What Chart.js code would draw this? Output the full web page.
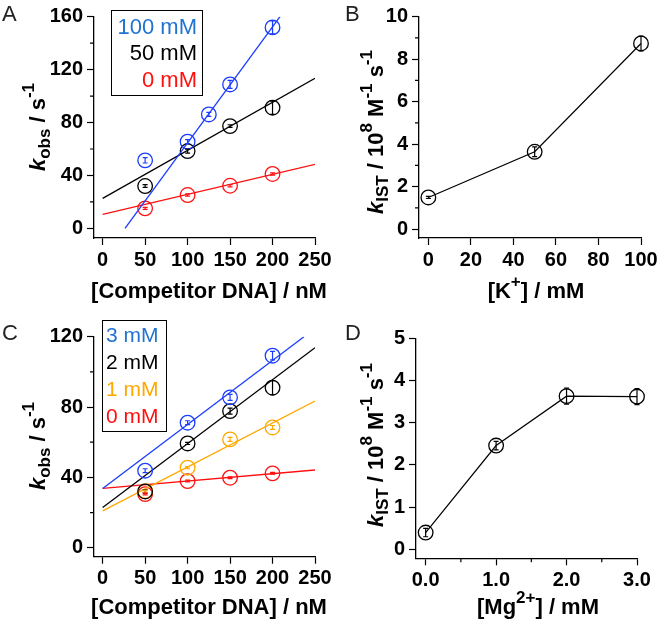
<!DOCTYPE html>
<html lang="en">
<head>
<meta charset="UTF-8" />
<title>kobs vs competitor DNA</title>
<script src="https://cdn.jsdelivr.net/npm/chart.js@4.4.1/dist/chart.umd.min.js"></script>
<style>
  html, body { margin: 0; padding: 0; background: #fff; }
  #wrap { position: relative; width: 661px; height: 627px; overflow: hidden; background: #fff; }
  #wrap canvas { position: absolute; left: 0; top: 0; }
</style>
</head>
<body>
<div id="wrap">
  <canvas id="pa" width="661" height="627"></canvas>
  <canvas id="pb" width="661" height="627"></canvas>
  <canvas id="pc" width="661" height="627"></canvas>
  <canvas id="pd" width="661" height="627"></canvas>
</div>
<script>
// --- data ---
// A: kobs vs [competitor DNA] at three [K+]
const dnaA100 = [50, 100, 125, 150, 200]
const kobsA100 = [51.4, 65.5, 86.1, 108.8, 151.9]
const errA100 = [2, 1.5, 1.5, 3, 4.9]
const dnaA = [50, 100, 150, 200]
const kobsA50 = [32, 58.4, 77.3, 91.2]
const errA50 = [1, 1.5, 1, 5]
const kobsA0 = [15.1, 25.2, 32.2, 41.1]
const errA0 = [0.8, 0.8, 0.8, 0.8]
const fitA100 = [[26.3, 0], [208.8, 160]]
const fitA50 = [[0, 22.7], [250, 113.4]]
const fitA0 = [[0, 10.6], [250, 48.4]]

// B: kIST vs [K+]
const potassium = [0, 50, 100]
const kistB = [1.49, 3.64, 8.74]
const errB = [0.05, 0.23, 0.35]

// C: kobs vs [competitor DNA] at four [Mg2+]
const dnaC = [50, 100, 150, 200]
const kobsC3 = [43.8, 71.1, 85.5, 109.2]
const errC3 = [1.1, 1.1, 1.7, 2.4]
const kobsC2 = [32, 59.3, 77.7, 91]
const errC2 = [1, 0.6, 1.7, 4]
const kobsC1 = [32.2, 45.5, 61.6, 68.4]
const errC1 = [0.6, 0.6, 1.1, 1.1]
const kobsC0 = [30.5, 37.9, 39.8, 42.3]
const errC0 = [0.5, 0.5, 0.5, 0.5]
const fitC3 = [[0, 33.7], [237, 120]]
const fitC2 = [[0, 22.9], [250, 113.7]]
const fitC1 = [[0, 21], [250, 83.4]]
const fitC0 = [[0, 33.7], [250, 44.2]]

// D: kIST vs [Mg2+]
const magnesium = [0, 1, 2, 3]
const kistD = [0.40, 2.46, 3.63, 3.62]
const errD = [0.1, 0.1, 0.19, 0.19]

// tick values
const ticksDna = [0, 50, 100, 150, 200, 250]
const ticksKobsA = [0, 40, 80, 120, 160]
const minorKobsA = [20, 60, 100, 140]
const ticksK = [0, 20, 40, 60, 80, 100]
const ticksKistB = [0, 2, 4, 6, 8, 10]
const minorKistB = [1, 3, 5, 7, 9]
const ticksKobsC = [0, 40, 80, 120]
const minorKobsC = [20, 60, 100]
const ticksMg = [0, 1, 2, 3]
const minorMg = [0.5, 1.5, 2.5]
const ticksKistD = [0, 1, 2, 3, 4, 5]

const BLUE = '#1a3cff'
const BLUE_TXT = '#1f74d0'
const ORANGE = '#ffa800'
const RED = '#ff1010'
const BLACK = '#000'
const FONT = '"Liberation Sans", Arial, Helvetica, sans-serif'

const pts = (xs, ys) => xs.map((x, i) => ({ x, y: ys[i] }))

// draw a run of text pieces (sub/superscripts) centred on (cx, cy)
function rich(ctx, parts, cx, cy, rotate) {
  ctx.save()
  ctx.translate(cx, cy)
  if (rotate) ctx.rotate(-Math.PI / 2)
  ctx.textBaseline = 'alphabetic'
  ctx.fillStyle = '#000'
  let total = 0
  for (const p of parts) {
    ctx.font = `${p.s || ''} ${p.z}px ${FONT}`
    p.w = ctx.measureText(p.t).width
    total += p.w
  }
  let x = -total / 2
  for (const p of parts) {
    ctx.font = `${p.s || ''} ${p.z}px ${FONT}`
    ctx.fillText(p.t, x, p.dy || 0)
    x += p.w
  }
  ctx.restore()
}

const extras = {
  id: 'extras',
  afterDatasetsDraw(chart) {
    const o = chart.options.plugins.extras
    const { ctx, chartArea: ca } = chart
    const sx = chart.scales.x
    const sy = chart.scales.y
    ctx.save()
    // error bars
    for (const ds of chart.data.datasets) {
      if (!ds.err) continue
      ctx.strokeStyle = ds.borderColor
      ctx.lineWidth = 1.2
      ds.data.forEach((p, i) => {
        const px = sx.getPixelForValue(p.x)
        const lo = sy.getPixelForValue(p.y - ds.err[i])
        const hi = sy.getPixelForValue(p.y + ds.err[i])
        ctx.beginPath()
        ctx.moveTo(px, lo); ctx.lineTo(px, hi)
        ctx.moveTo(px - 2.5, lo); ctx.lineTo(px + 2.5, lo)
        ctx.moveTo(px - 2.5, hi); ctx.lineTo(px + 2.5, hi)
        ctx.stroke()
      })
    }
    // minor ticks
    ctx.strokeStyle = '#000'
    ctx.lineWidth = 1.2
    ctx.beginPath()
    for (const v of o.yMinor || []) {
      const py = sy.getPixelForValue(v)
      ctx.moveTo(ca.left - 4, py); ctx.lineTo(ca.left, py)
    }
    for (const v of o.xMinor || []) {
      const px = sx.getPixelForValue(v)
      ctx.moveTo(px, ca.bottom); ctx.lineTo(px, ca.bottom + 4)
    }
    ctx.stroke()
    // legend box
    if (o.legend) {
      const L = o.legend
      ctx.strokeStyle = '#000'
      ctx.lineWidth = 1
      ctx.strokeRect(L.x + 0.5, L.y + 0.5, L.w, L.h)
      ctx.font = `${L.size}px ${FONT}`
      ctx.textAlign = L.align
      ctx.textBaseline = 'alphabetic'
      L.items.forEach((it, i) => {
        ctx.fillStyle = it.color
        ctx.fillText(it.text, L.tx, L.ty + i * L.dy)
      })
    }
    // panel letter
    ctx.font = `22px ${FONT}`
    ctx.fillStyle = '#222'
    ctx.textAlign = 'left'
    ctx.textBaseline = 'alphabetic'
    ctx.fillText(o.letter[0], o.letter[1], o.letter[2])
    rich(ctx, o.yTitle, o.yTitlePos[0], o.yTitlePos[1], true)
    rich(ctx, o.xTitle, o.xTitlePos[0], o.xTitlePos[1], false)
    ctx.restore()
  }
}

function panel(id, o) {
  const datasets = []
  for (const s of o.series) {
    datasets.push({
      data: pts(s.x, s.y),
      err: s.err,
      borderColor: s.color,
      backgroundColor: 'transparent',
      pointRadius: 7.3,
      pointBorderWidth: 1.3,
      pointBackgroundColor: 'transparent',
      showLine: !!s.joined,
      borderWidth: 1.2,
      clip: false,
    })
    if (s.fit) {
      datasets.push({
        data: s.fit.map(([x, y]) => ({ x, y })),
        borderColor: s.color,
        borderWidth: 1.3,
        pointRadius: 0,
        showLine: true,
      })
    }
  }
  const axisW = 60
  const tickFont = { family: FONT, size: 20, weight: 'bold' }
  const grid = { display: true, drawOnChartArea: false, drawTicks: true, tickLength: 7, tickWidth: 1.2, tickColor: '#000' }
  const border = { display: true, color: '#000', width: 1.3 }
  return new Chart(document.getElementById(id), {
    type: 'scatter',
    data: { datasets },
    plugins: [extras],
    options: {
      responsive: false,
      animation: false,
      events: [],
      layout: {
        padding: {
          left: o.area.left - axisW,
          top: o.area.top,
          right: 661 - o.area.right,
          bottom: 627 - o.area.bottom - axisW,
        },
      },
      plugins: {
        legend: { display: false },
        tooltip: { enabled: false },
        extras: o.extras,
      },
      scales: {
        x: {
          type: 'linear',
          min: o.x[0],
          max: o.x[1],
          afterBuildTicks: (s) => { s.ticks = o.xTicks.map((v) => ({ value: v })) },
          afterFit: (s) => { s.height = axisW; s.paddingLeft = 0; s.paddingRight = 0 },
          grid,
          border,
          ticks: {
            color: '#000', font: tickFont, padding: 3, maxRotation: 0, autoSkip: false,
            callback: o.xFmt || ((v) => v),
          },
        },
        y: {
          type: 'linear',
          min: o.y[0],
          max: o.y[1],
          afterBuildTicks: (s) => { s.ticks = o.yTicks.map((v) => ({ value: v })) },
          afterFit: (s) => { s.width = axisW; s.paddingTop = 0; s.paddingBottom = 0 },
          grid,
          border,
          ticks: { color: '#000', font: tickFont, padding: 4, autoSkip: false },
        },
      },
    },
  })
}

const B = 'bold'
const BI = 'italic bold'
const kobsTitle = [
  { t: 'k', s: BI, z: 22 },
  { t: 'obs', s: B, z: 17, dy: 5 },
  { t: ' / s', s: B, z: 22 },
  { t: '-1', s: B, z: 17, dy: -11 },
]
const kistTitle = [
  { t: 'k', s: BI, z: 22 },
  { t: 'IST', s: B, z: 17, dy: 5 },
  { t: ' / 10', s: B, z: 22 },
  { t: '8', s: B, z: 17, dy: -11 },
  { t: ' M', s: B, z: 22 },
  { t: '-1', s: B, z: 17, dy: -11 },
  { t: ' s', s: B, z: 22 },
  { t: '-1', s: B, z: 17, dy: -11 },
]
const dnaTitle = [{ t: '[Competitor DNA] / nM', s: B, z: 22 }]

panel('pa', {
  area: { left: 94, right: 315, top: 16.7, bottom: 238 },
  x: [-10.2, 250], y: [-7.3, 160],
  xTicks: ticksDna, yTicks: ticksKobsA,
  series: [
    { x: dnaA100, y: kobsA100, err: errA100, color: BLUE, fit: fitA100 },
    { x: dnaA, y: kobsA50, err: errA50, color: BLACK, fit: fitA50 },
    { x: dnaA, y: kobsA0, err: errA0, color: RED, fit: fitA0 },
  ],
  extras: {
    letter: ['A', 2, 21],
    yMinor: minorKobsA,
    yTitle: kobsTitle, yTitlePos: [45, 127],
    xTitle: dnaTitle, xTitlePos: [209, 298],
    legend: {
      x: 111, y: 10, w: 91, h: 85, size: 22, align: 'right', tx: 197, ty: 33.5, dy: 26.7,
      items: [
        { text: '100 mM', color: BLUE_TXT },
        { text: '50 mM', color: BLACK },
        { text: '0 mM', color: RED },
      ],
    },
  },
})

panel('pb', {
  area: { left: 419, right: 641, top: 16.7, bottom: 238 },
  x: [-4.4, 100], y: [-0.42, 10],
  xTicks: ticksK, yTicks: ticksKistB,
  series: [{ x: potassium, y: kistB, err: errB, color: BLACK, joined: true }],
  extras: {
    letter: ['B', 345, 21],
    yMinor: minorKistB,
    yTitle: kistTitle, yTitlePos: [383, 132],
    xTitle: [
      { t: '[K', s: B, z: 22 },
      { t: '+', s: B, z: 17, dy: -11 },
      { t: '] / mM', s: B, z: 22 },
    ],
    xTitlePos: [536, 298],
  },
})

panel('pc', {
  area: { left: 94, right: 315, top: 336.7, bottom: 556.7 },
  x: [-10.2, 250], y: [-5.1, 120],
  xTicks: ticksDna, yTicks: ticksKobsC,
  series: [
    { x: dnaC, y: kobsC3, err: errC3, color: BLUE, fit: fitC3 },
    { x: dnaC, y: kobsC2, err: errC2, color: BLACK, fit: fitC2 },
    { x: dnaC, y: kobsC1, err: errC1, color: ORANGE, fit: fitC1 },
    { x: dnaC, y: kobsC0, err: errC0, color: RED, fit: fitC0 },
  ],
  extras: {
    letter: ['C', 2, 340],
    yMinor: minorKobsC,
    yTitle: kobsTitle, yTitlePos: [45, 446],
    xTitle: dnaTitle, xTitlePos: [209, 614],
    legend: {
      x: 102, y: 320, w: 64, h: 111, size: 21, align: 'left', tx: 106, ty: 342, dy: 27,
      items: [
        { text: '3 mM', color: BLUE_TXT },
        { text: '2 mM', color: BLACK },
        { text: '1 mM', color: ORANGE },
        { text: '0 mM', color: RED },
      ],
    },
  },
})

panel('pd', {
  area: { left: 416, right: 637, top: 338.3, bottom: 558.3 },
  x: [-0.137, 3], y: [-0.21, 5],
  xTicks: ticksMg, yTicks: ticksKistD,
  xFmt: (v) => Number(v).toFixed(1),
  series: [{ x: magnesium, y: kistD, err: errD, color: BLACK, joined: true }],
  extras: {
    letter: ['D', 345, 340],
    xMinor: minorMg,
    yTitle: kistTitle, yTitlePos: [383, 445],
    xTitle: [
      { t: '[Mg', s: B, z: 22 },
      { t: '2+', s: B, z: 17, dy: -11 },
      { t: '] / mM', s: B, z: 22 },
    ],
    xTitlePos: [538, 614],
  },
})
</script>
</body>
</html>
